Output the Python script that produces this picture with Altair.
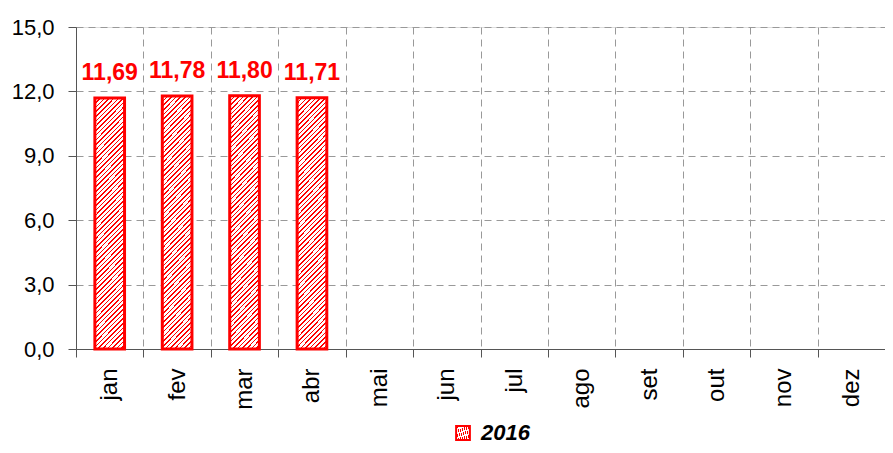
import altair as alt
import pandas as pd

months = ["jan", "fev", "mar", "abr", "mai", "jun", "jul", "ago", "set", "out", "nov", "dez"]
values_2016 = [11.69, 11.78, 11.80, 11.71]
series_name = "2016"
y_ticks = [0, 3, 6, 9, 12, 15]

df = pd.DataFrame({
    "mes": months[:len(values_2016)],
    "valor": values_2016,
    "serie": [series_name] * len(values_2016),
})

# hatched fill approximated with a striped linear gradient
k = 0.12
b = (1 + k) / (1 + k * k)
a = k * b
n = 60
stops = []
for i in range(n):
    t0 = i / n
    t1 = (i + 0.34) / n
    stops += [
        {"offset": t0, "color": "#ff0000"},
        {"offset": t1, "color": "#ff0000"},
        {"offset": t1, "color": "#ffffff"},
        {"offset": (i + 1) / n, "color": "#ffffff"},
    ]
hatch = alt.Gradient(gradient="linear", x1=0, y1=0, x2=a, y2=b, stops=stops)

FONT = "Liberation Sans"

x_enc = alt.X(
    "mes:N",
    sort=months,
    scale=alt.Scale(domain=months, paddingInner=0, paddingOuter=0),
    axis=alt.Axis(
        title=None,
        labelAngle=270,
        labelFontSize=24,
        labelFont=FONT,
        labelColor="#000000",
        labelPadding=11,
        tickBand="extent",
        tickSize=8,
        tickColor="#555555",
        domainColor="#555555",
        grid=True,
        gridDash=[7, 5],
        gridColor="#999999",
    ),
)

y_enc = alt.Y(
    "valor:Q",
    scale=alt.Scale(domain=[0, 15], nice=False),
    axis=alt.Axis(
        title=None,
        values=y_ticks,
        labelExpr="replace(format(datum.value, '.1f'), '.', ',')",
        labelFontSize=22,
        labelFont=FONT,
        labelColor="#000000",
        labelPadding=14,
        tickSize=8,
        tickColor="#555555",
        domainColor="#555555",
        gridDash=[7, 5],
        gridColor="#999999",
    ),
)

bars = alt.Chart(df).mark_bar(
    fill=hatch,
    strokeWidth=3,
    width=alt.RelativeBandSize(0.44),
).encode(
    x=x_enc,
    y=y_enc,
    stroke=alt.Stroke(
        "serie:N",
        scale=alt.Scale(range=["#ff0000"]),
        legend=alt.Legend(
            title=None,
            orient="none",
            legendX=376,
            legendY=395,
            symbolType="square",
            symbolSize=190,
            symbolFillColor="#ff0000",
            symbolStrokeColor="#ff0000",
            symbolStrokeWidth=2,
            labelFont=FONT,
            labelFontSize=22,
            labelFontWeight="bold",
            labelFontStyle="italic",
            labelColor="#000000",
            labelOffset=7,
        ),
    ),
)

labels = alt.Chart(df).transform_calculate(
    rotulo="replace(format(datum.valor, '.2f'), '.', ',')"
).mark_text(
    color="#ff0000",
    font=FONT,
    fontSize=23,
    fontWeight="bold",
    dy=-18,
    baseline="alphabetic",
).encode(
    x=alt.X("mes:N", sort=months, scale=alt.Scale(domain=months)),
    y=alt.Y("valor:Q"),
    text="rotulo:N",
)

chart = alt.layer(bars, labels).properties(
    width=809,
    height=322,
    autosize=alt.AutoSizeParams(type="none"),
    padding={"left": 68, "top": 19, "right": 0, "bottom": 96},
).configure_view(stroke=None).configure(background="#ffffff")

chart.save("out.html", embed_options={"renderer": "svg", "actions": False})
